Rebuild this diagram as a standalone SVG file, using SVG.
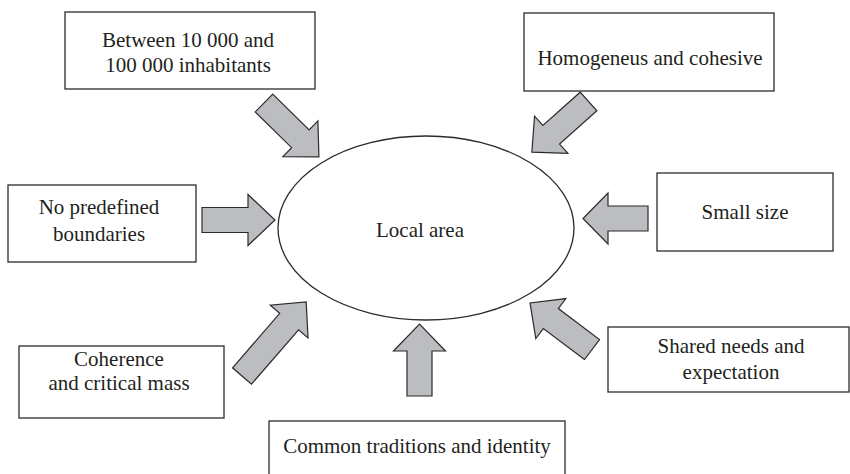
<svg xmlns="http://www.w3.org/2000/svg" width="850" height="474" viewBox="0 0 850 474">
  <defs>
    <style>
      .box { fill: #ffffff; stroke: #2b2b2b; stroke-width: 1.3; }
      .hub { fill: #ffffff; stroke: #2b2b2b; stroke-width: 1.3; }
      .lbl { font-family: 'Liberation Serif', 'DejaVu Serif', serif; font-size: 21px; fill: #231f20; text-anchor: middle; }
      .arrow { fill: #bcbdc0; stroke: #2b2b2b; stroke-width: 1.2; stroke-linejoin: miter; }
    </style>
  </defs>
  <rect width="850" height="474" fill="#ffffff"/>

  <!-- centre node -->
  <g id="local-area">
    <ellipse class="hub" cx="426" cy="228" rx="148" ry="92"/>
    <text class="lbl" x="420" y="237">Local area</text>
  </g>

  <!-- surrounding factor nodes -->
  <g id="inhabitants">
    <rect class="box" x="65" y="12" width="250" height="77"/>
    <text class="lbl" x="188" y="47">Between 10 000 and</text>
    <text class="lbl" x="188" y="72">100 000 inhabitants</text>
  </g>
  <g id="homogeneous">
    <rect class="box" x="524" y="13" width="250" height="78"/>
    <text class="lbl" x="650" y="65">Homogeneus and cohesive</text>
  </g>
  <g id="boundaries">
    <rect class="box" x="8" y="185" width="188" height="77"/>
    <text class="lbl" x="99" y="214">No predefined</text>
    <text class="lbl" x="99" y="241">boundaries</text>
  </g>
  <g id="small-size">
    <rect class="box" x="657" y="173" width="176" height="78"/>
    <text class="lbl" x="745" y="219">Small size</text>
  </g>
  <g id="coherence">
    <rect class="box" x="19" y="346" width="205" height="72"/>
    <text class="lbl" x="119" y="366">Coherence</text>
    <text class="lbl" x="119" y="390">and critical mass</text>
  </g>
  <g id="shared-needs">
    <rect class="box" x="608" y="327" width="241" height="65"/>
    <text class="lbl" x="731" y="353">Shared needs and</text>
    <text class="lbl" x="731" y="379">expectation</text>
  </g>
  <g id="traditions">
    <rect class="box" x="269" y="421" width="296" height="70"/>
    <text class="lbl" x="417" y="453">Common traditions and identity</text>
  </g>

  <!-- block arrows pointing into the centre node -->
  <g id="connectors">
    <polygon class="arrow" transform="translate(264,103) rotate(44.5)" points="0,-12.5 51,-12.5 51,-25 77,0 51,25 51,12.5 0,12.5"/>
    <polygon class="arrow" transform="translate(588.5,101.5) rotate(138.2)" points="0,-12.5 50,-12.5 50,-25 76,0 50,25 50,12.5 0,12.5"/>
    <polygon class="arrow" transform="translate(202,220)" points="0,-12.5 46,-12.5 46,-25.5 73,0 46,25.5 46,12.5 0,12.5"/>
    <polygon class="arrow" transform="translate(648,218.5) rotate(180)" points="0,-12.5 40,-12.5 40,-25.5 65,0 40,25.5 40,12.5 0,12.5"/>
    <polygon class="arrow" transform="translate(242,376) rotate(-49.1)" points="0,-12.5 72,-12.5 72,-25 98,0 72,25 72,12.5 0,12.5"/>
    <polygon class="arrow" transform="translate(592,349.5) rotate(216.9)" points="0,-12.5 51.5,-12.5 51.5,-25 77.5,0 51.5,25 51.5,12.5 0,12.5"/>
    <polygon class="arrow" transform="translate(419.5,396) rotate(-90)" points="0,-12.5 45,-12.5 45,-26 72,0 45,26 45,12.5 0,12.5"/>
  </g>
</svg>
